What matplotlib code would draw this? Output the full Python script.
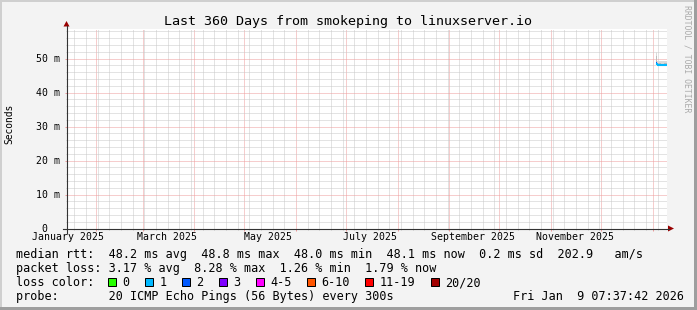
import matplotlib
matplotlib.use('Agg')
import matplotlib.pyplot as plt
import matplotlib.dates as mdates
import matplotlib.transforms as mtrans
from matplotlib.patches import Polygon, Rectangle
from matplotlib.lines import Line2D
from matplotlib.ticker import MultipleLocator
from datetime import datetime

W, H = 697, 310
MONO = 'DejaVu Sans Mono'

# graph window: last 360 days
t_start = datetime(2025, 1, 14, 7, 37, 42)
t_end = datetime(2026, 1, 9, 7, 37, 42)

title = 'Last 360 Days from smokeping to linuxserver.io'

# rrdtool puts the month labels in the middle of the month
month_labels = ['January 2025', 'March 2025', 'May 2025', 'July 2025',
                'September 2025', 'November 2025']
month_label_dates = [datetime(2025, m, 15, 12) for m in (1, 3, 5, 7, 9, 11)]

y_ticks = [0, 10, 20, 30, 40, 50]
y_tick_labels = ['0', '10 m', '20 m', '30 m', '40 m', '50 m']

# daily consolidated samples, ms
sample_times = [datetime(2026, 1, d, 18) for d in range(2, 9)]
smoke_lo = [48.5, 48.0, 48.0, 48.0, 47.9, 48.0, 48.0]
smoke_hi = [51.9, 49.3, 49.3, 49.2, 49.2, 49.3, 49.3]
core_lo = [48.6, 48.1, 48.1, 48.1, 48.0, 48.1, 48.1]
core_hi = [50.6, 48.6, 48.6, 48.5, 48.5, 48.6, 48.6]
median_rtt = [48.8, 48.1, 48.2, 48.1, 48.0, 48.2, 48.1]
loss_bin = [2, 1, 1, 1, 1, 1, 1]

loss_labels = ['0', '1', '2', '3', '4-5', '6-10', '11-19', '20/20']
loss_colors = ['#26ff00', '#00b8ff', '#0059ff', '#7e00ff',
               '#ff00ff', '#ff5500', '#ff0000', '#a10000']

legend_rtt = ('median rtt:  48.2 ms avg  48.8 ms max  48.0 ms min  '
              '48.1 ms now  0.2 ms sd  202.9   am/s')
legend_loss = 'packet loss: 3.17 % avg  8.28 % max  1.26 % min  1.79 % now'
legend_probe = 'probe:       20 ICMP Echo Pings (56 Bytes) every 300s'
stamp = 'Fri Jan  9 07:37:42 2026'


def fx(x):
    return x / W


def fy(y):
    return 1 - y / H


fig = plt.figure(figsize=(W / 100, H / 100), dpi=100, facecolor='#f3f3f3')
ax = fig.add_axes([fx(66.5), fy(228.5), 600 / W, 200 / H])
ax.set_facecolor('white')
for s in ax.spines.values():
    s.set_visible(False)

ax.set_xlim(t_start, t_end)
ax.set_ylim(0, 200 / 3.4)

# grid
ax.xaxis.set_major_locator(mdates.MonthLocator())
ax.xaxis.set_minor_locator(mdates.WeekdayLocator(byweekday=mdates.SU))
ax.yaxis.set_major_locator(MultipleLocator(10))
ax.yaxis.set_minor_locator(MultipleLocator(2))
ax.set_axisbelow(True)
ax.grid(which='minor', color='#c8c8c8', ls=(0, (1, 1)), lw=0.72)
ax.grid(which='major', color='#ee9c9c', ls=(0, (1, 1)), lw=0.72)
ax.tick_params(which='both', labelbottom=False, labelleft=False, direction='out')
ax.tick_params(which='major', length=1.5, width=0.72, color='#ee9c9c')
ax.tick_params(which='minor', length=0.8, width=0.72, color='#c8c8c8')

# smoke
edges = sample_times + [t_end]
ax.fill_between(edges, smoke_lo + smoke_lo[-1:], smoke_hi + smoke_hi[-1:],
                step='post', color='#dadada', lw=0)
ax.fill_between(edges, core_lo + core_lo[-1:], core_hi + core_hi[-1:],
                step='post', color='#bcbcbc', lw=0)

# median line coloured by loss
for i, v in enumerate(median_rtt):
    ax.hlines(v, edges[i], edges[i + 1], colors=loss_colors[loss_bin[i]], lw=1.5)
    if i > 0 and median_rtt[i - 1] != v:
        ax.vlines(edges[i], median_rtt[i - 1], v,
                  colors=loss_colors[loss_bin[i]], lw=1.5)

# axis lines and arrows
axis_col = '#333333'
arrow_col = '#990000'
fig.add_artist(Line2D([fx(62.5), fx(669)], [fy(228.5), fy(228.5)],
                      color=axis_col, lw=0.8))
fig.add_artist(Line2D([fx(66.5), fx(66.5)], [fy(232.5), fy(26)],
                      color=axis_col, lw=0.8))
fig.add_artist(Polygon([(fx(668), fy(225.5)), (fx(674), fy(228.5)),
                        (fx(668), fy(231.5))], closed=True,
                       color=arrow_col, lw=0))
fig.add_artist(Polygon([(fx(63.5), fy(26.5)), (fx(66.5), fy(21)),
                        (fx(69.5), fy(26.5))], closed=True,
                       color=arrow_col, lw=0))

# tick labels
xlab_tr = mtrans.offset_copy(ax.get_xaxis_transform(), fig, y=-11, units='dots')
x0, x1 = mdates.date2num(t_start), mdates.date2num(t_end)
for d, lab in zip(month_label_dates, month_labels):
    if x0 <= mdates.date2num(d) <= x1:
        ax.text(d, 0, lab, transform=xlab_tr, ha='center', va='baseline',
                fontsize=7.1, family=MONO, color='black')

for v, lab in zip(y_ticks, y_tick_labels):
    off = -7 if ' ' in lab else -19
    tr = mtrans.offset_copy(ax.get_yaxis_transform(), fig, x=off, y=-3.2,
                            units='dots')
    ax.text(0, v, lab, transform=tr, ha='right', va='baseline',
            fontsize=7.1, family=MONO, color='black')

fig.text(fx(9.7), fy(123.5), 'Seconds', rotation=90, ha='center', va='center',
         fontsize=6.9, family=MONO)
fig.text(fx(347.5), fy(25), title, ha='center', va='baseline',
         fontsize=9.6, family=MONO)
fig.text(fx(687.5), fy(59), 'RRDTOOL / TOBI OETIKER', rotation=270,
         ha='center', va='center', fontsize=5.9, family=MONO, color='#aaaaaa')

# legend
leg_fs = 8.5
cw = 7.12
fig.text(fx(16), fy(258), legend_rtt, fontsize=leg_fs, family=MONO, va='baseline')
fig.text(fx(16), fy(272), legend_loss, fontsize=leg_fs, family=MONO, va='baseline')
fig.text(fx(16), fy(286), 'loss color:', fontsize=leg_fs, family=MONO, va='baseline')
bx = 108.3
for lab, col in zip(loss_labels, loss_colors):
    fig.add_artist(Rectangle((fx(bx), fy(285.7)), 8 / W, 8 / H,
                             facecolor=col, edgecolor='black', lw=0.72))
    fig.text(fx(bx + 14), fy(286), lab, fontsize=leg_fs, family=MONO,
             va='baseline')
    bx += 14 + len(lab) * cw + 15.8
fig.text(fx(16), fy(300), legend_probe, fontsize=leg_fs, family=MONO, va='baseline')
fig.text(fx(684), fy(300), stamp, fontsize=leg_fs, family=MONO, va='baseline',
         ha='right')

# image frame
fig.add_artist(Rectangle((0, fy(2)), 1, 2 / H, color='#cfcfcf', lw=0))
fig.add_artist(Rectangle((0, 0), 2 / W, 1, color='#cfcfcf', lw=0))
fig.add_artist(Rectangle((0, 0), 1, 3 / H, color='#9e9e9e', lw=0))
fig.add_artist(Rectangle((fx(694), 0), 3 / W, 1, color='#9e9e9e', lw=0))

fig.savefig('out.png', dpi=100, facecolor=fig.get_facecolor())
